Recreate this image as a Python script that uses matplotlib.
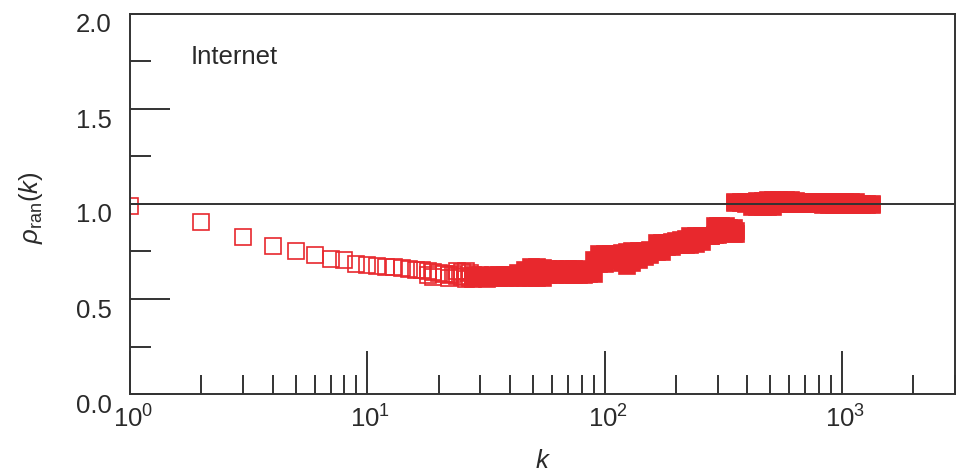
import math
import matplotlib
matplotlib.use("Agg")
import matplotlib.pyplot as plt
from matplotlib.ticker import LogLocator, NullFormatter, FuncFormatter, MultipleLocator, FixedLocator
from matplotlib.transforms import ScaledTranslation

plt.rcParams["font.family"] = ["Liberation Sans", "DejaVu Sans"]
plt.rcParams["mathtext.fontset"] = "custom"
plt.rcParams["mathtext.rm"] = "Liberation Sans"
plt.rcParams["mathtext.it"] = "Liberation Sans:italic"
plt.rcParams["mathtext.bf"] = "Liberation Sans:bold"

# Low-degree nodes: individual open squares
k_open = [1, 2, 3, 4, 5, 6, 7, 8, 9, 10, 11, 12, 13, 14, 15, 16, 17, 18, 18,
          19, 19, 20, 21, 22, 22, 23, 24, 24, 25, 25, 26, 26, 27, 27]
rho_open = [0.99, 0.905, 0.826, 0.78, 0.75, 0.734, 0.708, 0.705, 0.686, 0.68,
            0.672, 0.67, 0.667, 0.663, 0.66, 0.655, 0.652, 0.645, 0.625,
            0.64, 0.618, 0.635, 0.63, 0.626, 0.612, 0.63, 0.622, 0.648,
            0.614, 0.64, 0.645, 0.606, 0.61, 0.635]

# High-degree nodes: dense band, upper and lower envelope of the scatter
k_band = [28, 30, 32, 34, 36, 38, 40, 43, 46, 49, 52, 55, 58, 62, 66, 70, 74,
          78, 82, 86, 90, 95, 100, 106, 112, 118, 124, 131, 140, 148, 156,
          166, 175, 184, 192, 200, 210, 220, 230, 244, 258, 270, 280, 292,
          300, 310, 325, 334, 350, 358,
          355, 375, 395, 417, 440, 465, 490, 515, 545, 580, 610, 640, 675,
          710, 750, 790, 830, 880, 930, 980, 1030, 1090, 1150, 1220, 1280,
          1345]
rho_band_upper = [0.625, 0.627, 0.622, 0.627, 0.625, 0.627, 0.628, 0.637,
                  0.654, 0.667, 0.667, 0.665, 0.658, 0.658, 0.658, 0.658,
                  0.658, 0.658, 0.655, 0.655, 0.707, 0.737, 0.737, 0.737,
                  0.737, 0.74, 0.745, 0.751, 0.751, 0.755, 0.759, 0.795,
                  0.795, 0.795, 0.8, 0.804, 0.809, 0.815, 0.83, 0.83, 0.832,
                  0.832, 0.832, 0.883, 0.883, 0.883, 0.883, 0.874, 0.874,
                  0.856,
                  1.011, 1.011, 1.011, 1.011, 1.015, 1.015, 1.02, 1.023,
                  1.023, 1.023, 1.023, 1.015, 1.011, 1.011, 1.011, 1.011,
                  1.011, 1.011, 1.011, 1.011, 1.011, 1.011, 1.011, 1.0, 1.0,
                  1.0]
rho_band_lower = [0.606, 0.61, 0.606, 0.61, 0.608, 0.61, 0.61, 0.612, 0.61,
                  0.61, 0.612, 0.61, 0.626, 0.626, 0.626, 0.626, 0.626,
                  0.626, 0.626, 0.633, 0.633, 0.686, 0.686, 0.703, 0.703,
                  0.69, 0.674, 0.69, 0.705, 0.721, 0.73, 0.747, 0.747, 0.774,
                  0.774, 0.783, 0.783, 0.783, 0.783, 0.79, 0.8, 0.832, 0.832,
                  0.835, 0.835, 0.862, 0.862, 0.862, 0.844, 0.844,
                  1.007, 1.007, 1.0, 0.984, 0.984, 0.984, 0.984, 0.984,
                  1.002, 1.002, 1.002, 1.002, 1.002, 1.002, 1.002, 1.0,
                  0.993, 0.993, 0.993, 0.993, 0.993, 0.993, 0.993, 0.993,
                  0.993, 0.993]

x_decades = [1, 10, 100, 1000]
y_major = [0.0, 0.5, 1.0, 1.5, 2.0]

RED = "#e8282d"
DARK = "#333333"
TEXT = "#2a2a2a"
FS = 18.5

fig = plt.figure(figsize=(9.58, 4.73), dpi=100)
ax = fig.add_axes([130 / 958, 79 / 473, 825 / 958, 380 / 473])

marker_kw = dict(ls="none", marker="s", ms=11.4, mec=RED, mew=1.2, zorder=2)
ax.plot(k_open, rho_open, mfc="none", **marker_kw)
ax.plot(k_band, rho_band_upper, mfc=RED, **marker_kw)
ax.plot(k_band, rho_band_lower, mfc=RED, **marker_kw)

ax.axhline(1.0, color=DARK, lw=1.4, zorder=3)

ax.set_xscale("log")
ax.set_xlim(1, 3000)
ax.set_ylim(0, 2)

ax.xaxis.set_major_locator(FixedLocator(x_decades))
ax.xaxis.set_minor_locator(LogLocator(base=10, subs=range(2, 10), numticks=20))
ax.xaxis.set_major_formatter(FuncFormatter(
    lambda v, pos: r"$\mathregular{10^{%d}}$" % round(math.log10(v))))
ax.xaxis.set_minor_formatter(NullFormatter())

ax.yaxis.set_major_locator(FixedLocator(y_major))
ax.yaxis.set_minor_locator(MultipleLocator(0.25))
ax.yaxis.set_major_formatter(FuncFormatter(lambda v, pos: f"{v:.1f}"))

for side in ["left", "right", "top", "bottom"]:
    ax.spines[side].set_color(DARK)
    ax.spines[side].set_linewidth(1.4)

ax.tick_params(which="both", direction="in", color=DARK, width=1.4,
               top=False, right=False, labelsize=FS, labelcolor=TEXT)
ax.tick_params(axis="y", which="major", length=29)
ax.tick_params(axis="y", which="minor", length=15)
ax.tick_params(axis="x", which="major", length=31)
ax.tick_params(axis="x", which="minor", length=14)
ax.tick_params(axis="y", pad=13)
ax.tick_params(axis="x", pad=8)

for lbl in ax.get_yticklabels():
    lbl.set_transform(lbl.get_transform() + ScaledTranslation(0, -0.09, fig.dpi_scale_trans))
for lbl in ax.get_xticklabels():
    lbl.set_transform(lbl.get_transform() + ScaledTranslation(0.03, 0, fig.dpi_scale_trans))

ax.set_xlabel(r"$k$", fontsize=FS, color=TEXT, labelpad=12)
ax.set_ylabel(r"$\rho_{\mathrm{ran}}(k)$", fontsize=FS, color=TEXT)
ax.yaxis.set_label_coords(-0.103, 0.49)

ax.text(0.074, 0.887, "Internet", transform=ax.transAxes, fontsize=FS,
        color=TEXT, ha="left", va="center")

fig.savefig("out.png", dpi=100)
